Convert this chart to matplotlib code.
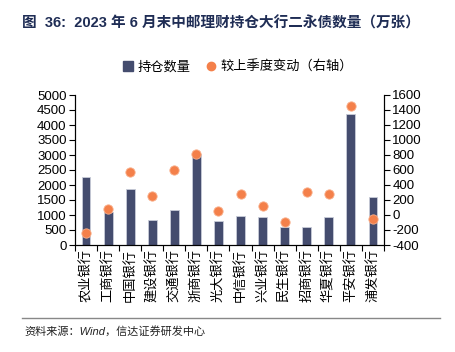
import numpy as np
import matplotlib
matplotlib.use('Agg')
import matplotlib.pyplot as plt
from matplotlib.lines import Line2D
from matplotlib.patches import Patch

plt.rcParams['font.family'] = ['Liberation Sans', 'Noto Sans CJK SC', 'DejaVu Sans']
plt.rcParams['axes.unicode_minus'] = False

banks = ['农业银行', '工商银行', '中国银行', '建设银行', '交通银行', '浙商银行', '光大银行',
         '中信银行', '兴业银行', '民生银行', '招商银行', '华夏银行', '平安银行', '浦发银行']
holdings = [2280, 1090, 1856, 822, 1156, 3020, 800, 972, 944, 589, 600, 922, 4367, 1600]
qoq_change = [-240, 80, 569, 249, 604, 818, 58, 286, 124, -98, 302, 284, 1453, -58]

bar_color = '#444c6e'
dot_color = '#f4804a'

fig = plt.figure(figsize=(4.55, 3.52), dpi=100)
ax = fig.add_axes([75/455, 1-245/352, (384-75)/455, 150/352])
x = np.arange(len(banks))
ax.bar(x, holdings, width=0.4, color=bar_color, edgecolor='#c8ccd8', linewidth=0.6, zorder=2)
ax.set_ylim(0, 5000)
ax.set_yticks(np.arange(0, 5001, 500))
ax.set_xlim(-0.5, len(banks) - 0.5)
ax.set_xticks(x)
ax.set_xticklabels(banks, rotation=90, fontsize=9.5)
ax.set_xticks(np.arange(-0.5, len(banks), 1), minor=True)
ax.tick_params(axis='x', which='major', length=0, pad=3)
ax.tick_params(axis='x', which='minor', length=4, width=0.8, direction='out')
ax.tick_params(axis='y', labelsize=9.5, length=4, width=0.8, pad=2)

ax2 = ax.twinx()
ax2.scatter(x, qoq_change, s=45, color=dot_color, edgecolors='#f9b08c', linewidths=0.6, zorder=3)
ax2.set_ylim(-400, 1600)
ax2.set_yticks(np.arange(-400, 1601, 200))
ax2.tick_params(axis='y', labelsize=9.5, length=4, width=0.8, pad=2)

for a in (ax, ax2):
    a.spines['top'].set_visible(False)
    for s in ('left', 'right', 'bottom'):
        a.spines[s].set_linewidth(0.8)

fig.text(22/455, 1-23/352, '图  36:  2023 年 6 月末中邮理财持仓大行二永债数量（万张）',
         fontsize=10.5, fontweight='bold', color='#1f2d55', va='center', ha='left')

handles = [Patch(color=bar_color, label='持仓数量'),
           Line2D([], [], marker='o', ls='', color=dot_color, markersize=6, label='较上季度变动（右轴）')]
fig.legend(handles=handles, loc='center', bbox_to_anchor=(238/455, 1-67/352), ncol=2,
           frameon=False, fontsize=9.5, handlelength=0.8, handletextpad=0.3, columnspacing=1.2)

fig.add_artist(Line2D([22/455, 440/455], [1-318/352, 1-318/352], color='#888888', lw=1))
fig.text(24/455, 1-331/352, '资料来源：Wind，信达证券研发中心', fontsize=8, style='italic',
         va='center', ha='left', color='#222222')

fig.savefig('out.png', dpi=100)
